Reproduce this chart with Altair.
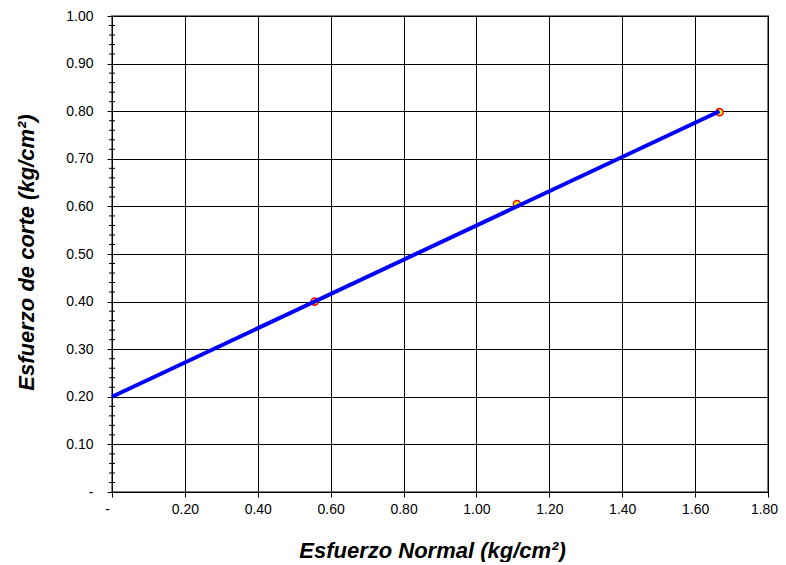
import altair as alt
import pandas as pd

# Measured points (normal stress vs shear stress)
sigma = [0.556, 1.111, 1.667]
tau = [0.400, 0.605, 0.798]

# Failure envelope line
fit_x = [0.0, 1.667]
fit_y = [0.200, 0.800]

# Axis tick values
x_ticks = [0.0, 0.2, 0.4, 0.6, 0.8, 1.0, 1.2, 1.4, 1.6, 1.8]
y_ticks = [0.0, 0.1, 0.2, 0.3, 0.4, 0.5, 0.6, 0.7, 0.8, 0.9, 1.0]
y_minor = [0.02, 0.04, 0.06, 0.08, 0.12, 0.14, 0.16, 0.18,
           0.22, 0.24, 0.26, 0.28, 0.32, 0.34, 0.36, 0.38,
           0.42, 0.44, 0.46, 0.48, 0.52, 0.54, 0.56, 0.58,
           0.62, 0.64, 0.66, 0.68, 0.72, 0.74, 0.76, 0.78,
           0.82, 0.84, 0.86, 0.88, 0.92, 0.94, 0.96, 0.98]

pts = pd.DataFrame({"x": sigma, "y": tau})
line = pd.DataFrame({"x": fit_x, "y": fit_y})
minor = pd.DataFrame({"v": y_minor})

FONT = "Liberation Sans"

xscale = alt.Scale(domain=[0, 1.8], nice=False, zero=False)
yscale = alt.Scale(domain=[0, 1.0], nice=False, zero=False)

xaxis = alt.Axis(
    values=x_ticks,
    labelExpr="datum.value == 0 ? '-' : format(datum.value, '.2f')",
    labelOffset={"condition": [{"test": "datum.value > 1.75", "value": -4},
                               {"test": "datum.value == 0", "value": -5}],
                 "value": 0},
    grid=True, gridColor="#000000", gridWidth=1, gridOpacity=1,
    domainColor="#000000", domainWidth=1,
    tickColor="#000000", tickSize=5, tickWidth=1,
    labelFont=FONT, labelFontSize=14, labelColor="#000000", labelPadding=5,
    labelFlush=False, labelOverlap=False,
    title="Esfuerzo Normal (kg/cm²)",
    titleFont=FONT, titleFontSize=22, titleFontWeight="bold", titleFontStyle="italic",
    titleColor="#000000", titleX=320, titleY=58, titleBaseline="middle",
    titleAlign="center",
)
yaxis = alt.Axis(
    values=y_ticks,
    labelExpr="datum.value == 0 ? '-' : format(datum.value, '.2f')",
    grid=True, gridColor="#000000", gridWidth=1, gridOpacity=1,
    domainColor="#000000", domainWidth=1,
    tickColor="#000000", tickSize=5, tickWidth=1,
    labelFont=FONT, labelFontSize=14, labelColor="#000000", labelPadding=14,
    labelFlush=False, labelOverlap=False,
    title="Esfuerzo de corte (kg/cm²)",
    titleFont=FONT, titleFontSize=22, titleFontWeight="bold", titleFontStyle="italic",
    titleColor="#000000", titleX=-86, titleY=236, titleAngle=270,
    titleBaseline="middle", titleAlign="center",
)

minor_layer = alt.Chart(minor).mark_tick(
    orient="horizontal", size=6, thickness=1, color="#000000", opacity=1
).encode(
    x=alt.datum(0, scale=xscale, axis=xaxis),
    y=alt.Y("v:Q", scale=yscale, axis=yaxis),
)

pt_layer = alt.Chart(pts).mark_point(
    shape="circle", filled=True, fill="#FFFF00", stroke="#FF0000",
    strokeWidth=1.5, size=50, opacity=1
).encode(
    x=alt.X("x:Q", scale=xscale),
    y=alt.Y("y:Q", scale=yscale),
)

line_layer = alt.Chart(line).mark_line(color="#0000FF", strokeWidth=4).encode(
    x=alt.X("x:Q", scale=xscale),
    y=alt.Y("y:Q", scale=yscale),
)

chart = alt.layer(minor_layer, pt_layer, line_layer).properties(
    width=656, height=476,
    autosize=alt.AutoSizeParams(type="none"),
    padding={"left": 104, "top": 8, "right": 10, "bottom": 70},
    background="#FFFFFF",
).configure_view(stroke="#808080", strokeWidth=2)

chart.save("out.html", embed_options={"renderer": "svg", "actions": False})
